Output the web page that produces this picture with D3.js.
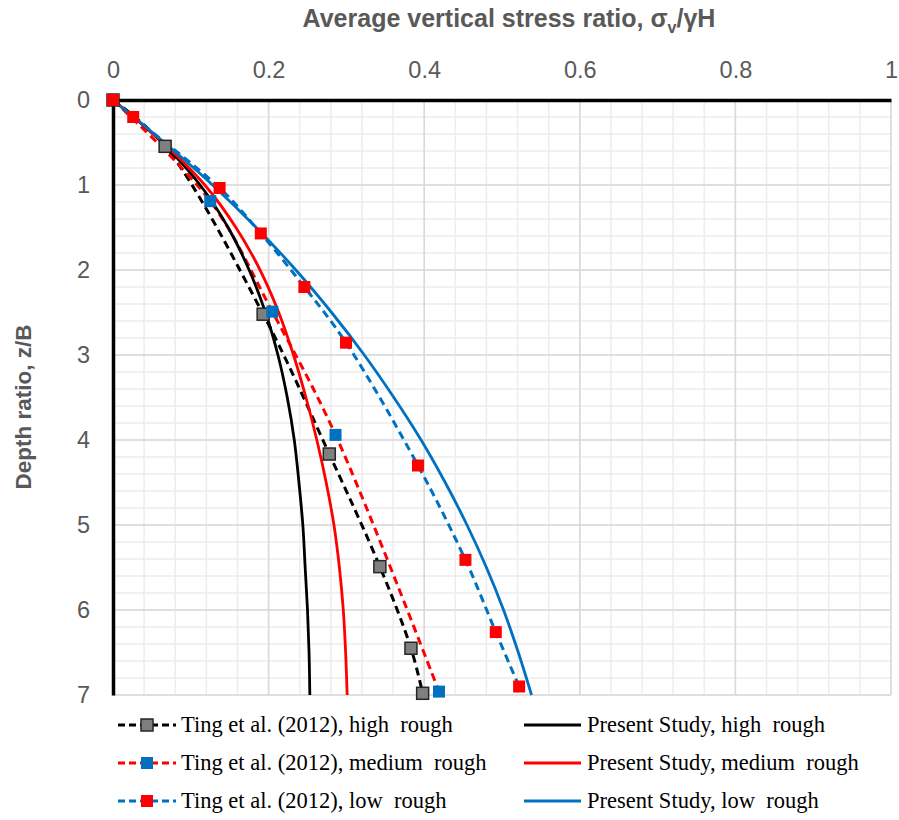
<!DOCTYPE html>
<html>
<head>
<meta charset="utf-8">
<script src="https://cdn.jsdelivr.net/npm/d3@7"></script>
<style>
  html, body { margin: 0; padding: 0; background: #fff; }
  svg { display: block; }
  .legend text { white-space: pre; }
</style>
</head>
<body>
<div id="chart"></div>
<script>
// Axis ticks
const ratioTicks = [0, 0.2, 0.4, 0.6, 0.8, 1];
const depthTicks = [0, 1, 2, 3, 4, 5, 6, 7];

// Ting et al. (2012) measurements: stress ratio vs depth ratio
const tingHighRatio = [0, 0.067, 0.193, 0.278, 0.343, 0.383, 0.398];
const tingHighDepth = [0, 0.545, 2.52, 4.165, 5.49, 6.45, 6.98];

const tingMediumRatio = [0, 0.125, 0.2048, 0.286, 0.419];
const tingMediumDepth = [0, 1.19, 2.49, 3.94, 6.96];

const tingLowRatio = [0, 0.026, 0.137, 0.190, 0.246, 0.2995, 0.392, 0.453, 0.492, 0.522];
const tingLowDepth = [0, 0.20, 1.035, 1.57, 2.20, 2.855, 4.30, 5.41, 6.26, 6.90];

// Present study predictions, sampled at common depth ratios
const presentDepth = [0, 0.5, 1, 1.5, 2, 2.5, 3, 3.5, 4, 4.5, 5, 5.5, 6, 6.5, 7];
const presentHigh = [0, 0.063, 0.112, 0.148, 0.175, 0.196, 0.212, 0.224, 0.233, 0.239, 0.244, 0.247, 0.250, 0.252, 0.253];
const presentMedium = [0, 0.064, 0.118, 0.158, 0.189, 0.213, 0.232, 0.248, 0.262, 0.274, 0.284, 0.291, 0.296, 0.299, 0.301];
const presentLow = [0, 0.066, 0.128, 0.184, 0.235, 0.281, 0.323, 0.361, 0.396, 0.427, 0.455, 0.480, 0.502, 0.521, 0.538];

const legendLabels = [
  ["Ting et al. (2012), high  rough", "Present Study, high  rough"],
  ["Ting et al. (2012), medium  rough", "Present Study, medium  rough"],
  ["Ting et al. (2012), low  rough", "Present Study, low  rough"]
];

const BLUE = "#0070C0", RED = "#FF0000", BLACK = "#000000", GRAY = "#7F7F7F";
const W = 899, H = 820;
const plotL = 113, plotR = 891, plotT = 100, plotB = 695;

const svg = d3.select("#chart").append("svg").attr("width", W).attr("height", H);

const x = d3.scaleLinear().domain([0, 1]).range([plotL, plotR]);
const y = d3.scaleLinear().domain([0, 7]).range([plotT, plotB]);

// Gridlines: minor then major
const grid = svg.append("g");
const minorX = d3.range(0, 1.0001, 0.04);
const minorY = d3.range(0, 7.0001, 0.2);
grid.selectAll(".mx").data(minorX).join("line")
  .attr("x1", d => x(d)).attr("x2", d => x(d)).attr("y1", plotT).attr("y2", plotB)
  .attr("stroke", "#EDEDED").attr("stroke-width", 1.5);
grid.selectAll(".my").data(minorY).join("line")
  .attr("x1", plotL).attr("x2", plotR).attr("y1", d => y(d)).attr("y2", d => y(d))
  .attr("stroke", "#EDEDED").attr("stroke-width", 1.5);
grid.selectAll(".Mx").data(ratioTicks).join("line")
  .attr("x1", d => x(d)).attr("x2", d => x(d)).attr("y1", plotT).attr("y2", plotB)
  .attr("stroke", "#D9D9D9").attr("stroke-width", 1.5);
grid.selectAll(".My").data(depthTicks).join("line")
  .attr("x1", plotL).attr("x2", plotR).attr("y1", d => y(d)).attr("y2", d => y(d))
  .attr("stroke", "#D9D9D9").attr("stroke-width", 1.5);

// Axes (ratio on top, depth increasing downward)
const xAxis = svg.append("g").attr("transform", `translate(0,${plotT})`)
  .call(d3.axisTop(x).tickValues(ratioTicks).tickFormat(d => String(d)).tickSize(0).tickPadding(22));
const yAxis = svg.append("g").attr("transform", `translate(${plotL},0)`)
  .call(d3.axisLeft(y).tickValues(depthTicks).tickFormat(d => String(d)).tickSize(0).tickPadding(23));
[xAxis, yAxis].forEach(g => {
  g.select(".domain").attr("stroke", "#000").attr("stroke-width", 3.5);
  g.selectAll("text").attr("font-family", "Liberation Sans, Arial, sans-serif")
    .attr("font-size", 23.5).attr("fill", "#595959");
});

// Axis titles
const xTitle = svg.append("text").attr("x", 509).attr("y", 27)
  .attr("text-anchor", "middle").attr("font-family", "Liberation Sans, Arial, sans-serif")
  .attr("font-size", 25).attr("font-weight", "bold").attr("fill", "#595959");
xTitle.append("tspan").text("Average vertical stress ratio, σ");
xTitle.append("tspan").attr("font-size", 16).attr("dy", 6).text("v");
xTitle.append("tspan").attr("dy", -6).text("/γH");

svg.append("text").attr("transform", "translate(31,407) rotate(-90)")
  .attr("text-anchor", "middle").attr("font-family", "Liberation Sans, Arial, sans-serif")
  .attr("font-size", 22.5).attr("font-weight", "bold").attr("fill", "#595959")
  .text("Depth ratio, z/B");

const zip = (r, d) => r.map((v, i) => [v, d[i]]);
const line = d3.line().x(p => x(p[0])).y(p => y(p[1])).curve(d3.curveCatmullRom.alpha(0.5));

const ting = [
  { pts: zip(tingHighRatio, tingHighDepth), line: BLACK, fill: GRAY, edge: "#262626" },
  { pts: zip(tingMediumRatio, tingMediumDepth), line: RED, fill: BLUE, edge: null },
  { pts: zip(tingLowRatio, tingLowDepth), line: BLUE, fill: RED, edge: null }
];
const present = [
  { pts: zip(presentHigh, presentDepth), line: BLACK },
  { pts: zip(presentMedium, presentDepth), line: RED },
  { pts: zip(presentLow, presentDepth), line: BLUE }
];

const plot = svg.append("g");
ting.forEach(s => {
  plot.append("path").attr("d", line(s.pts)).attr("fill", "none")
    .attr("stroke", s.line).attr("stroke-width", 3).attr("stroke-dasharray", "8,5");
});
present.forEach(s => {
  plot.append("path").attr("d", line(s.pts)).attr("fill", "none")
    .attr("stroke", s.line).attr("stroke-width", 2.8);
});

const MS = 12;
function marker(g, cx, cy, s) {
  g.append("rect").attr("x", cx - MS / 2).attr("y", cy - MS / 2)
    .attr("width", MS).attr("height", MS).attr("fill", s.fill)
    .attr("stroke", s.edge || "none").attr("stroke-width", s.edge ? 1.5 : 0);
}
ting.forEach(s => {
  s.pts.forEach(p => marker(plot, x(p[0]), y(p[1]), s));
});

// Legend
const legend = svg.append("g").attr("class", "legend");
const rowY = [725, 763, 801];
ting.forEach((s, i) => {
  legend.append("line").attr("x1", 118).attr("x2", 176).attr("y1", rowY[i]).attr("y2", rowY[i])
    .attr("stroke", s.line).attr("stroke-width", 3).attr("stroke-dasharray", "7,4");
  marker(legend, 147, rowY[i], s);
  legend.append("text").attr("x", 181).attr("y", rowY[i] + 7)
    .attr("font-family", "Liberation Serif, Times New Roman, serif").attr("font-size", 22.5)
    .attr("fill", "#000").text(legendLabels[i][0]);
});
present.forEach((s, i) => {
  legend.append("line").attr("x1", 524).attr("x2", 581).attr("y1", rowY[i]).attr("y2", rowY[i])
    .attr("stroke", s.line).attr("stroke-width", 3);
  legend.append("text").attr("x", 587).attr("y", rowY[i] + 7)
    .attr("font-family", "Liberation Serif, Times New Roman, serif").attr("font-size", 22.5)
    .attr("fill", "#000").text(legendLabels[i][1]);
});
</script>
</body>
</html>
